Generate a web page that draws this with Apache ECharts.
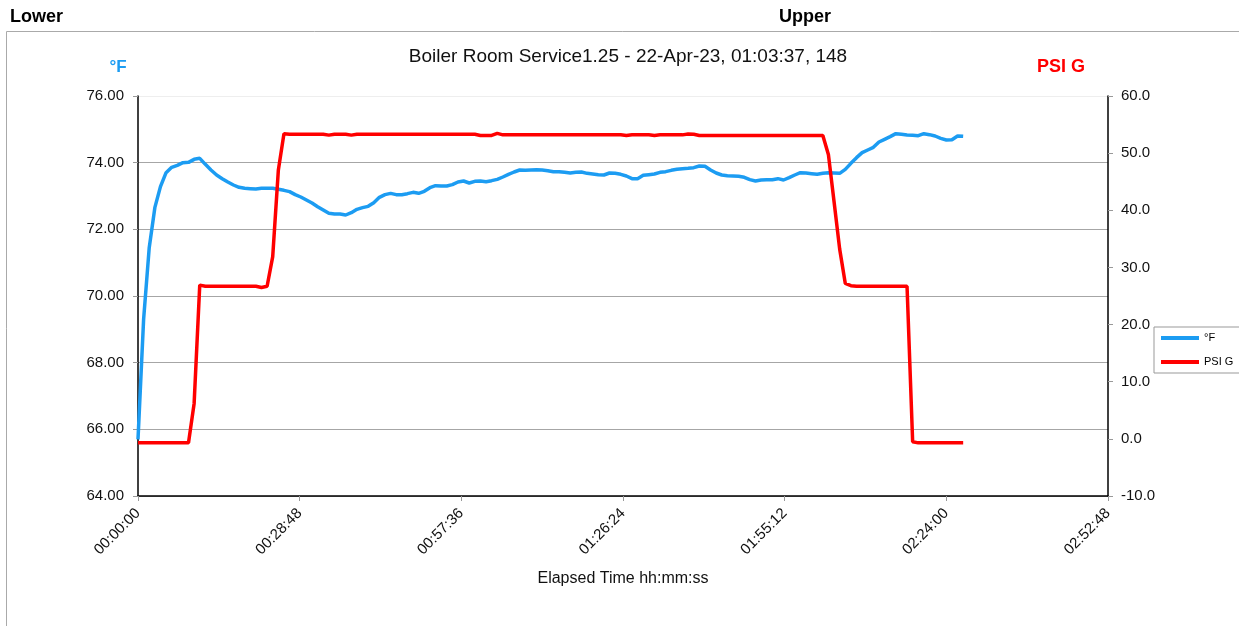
<!DOCTYPE html>
<html>
<head>
<meta charset="utf-8">
<title>Boiler Room Service1.25</title>
<script src="https://cdn.jsdelivr.net/npm/echarts@6/dist/echarts.min.js"></script>
<style>
  html, body { margin: 0; padding: 0; background: #fff; }
  #chart { width: 1239px; height: 626px; }
</style>
</head>
<body>
<div id="chart"></div>
<script>
// one reading per minute, 148 samples
var sampleSec = 60;

// °F (left axis)
var tempF = [
  65.70, 69.30, 71.45, 72.65, 73.28, 73.70, 73.86, 73.92, 74.00, 74.01,
  74.10, 74.13, 73.95, 73.78, 73.63, 73.52, 73.42, 73.33, 73.26, 73.23,
  73.22, 73.21, 73.23, 73.23, 73.23, 73.20, 73.17, 73.13, 73.04, 72.97,
  72.88, 72.79, 72.68, 72.58, 72.48, 72.46, 72.46, 72.43, 72.50, 72.60,
  72.65, 72.69, 72.80, 72.96, 73.04, 73.08, 73.04, 73.04, 73.07, 73.11,
  73.08, 73.14, 73.25, 73.31, 73.30, 73.30, 73.34, 73.42, 73.45, 73.39,
  73.44, 73.45, 73.43, 73.46, 73.50, 73.57, 73.65, 73.72, 73.78, 73.77,
  73.78, 73.79, 73.78, 73.76, 73.73, 73.73, 73.71, 73.69, 73.71, 73.72,
  73.68, 73.66, 73.64, 73.63, 73.69, 73.68, 73.65, 73.60, 73.52, 73.52,
  73.62, 73.64, 73.66, 73.71, 73.73, 73.77, 73.80, 73.82, 73.83, 73.85,
  73.90, 73.89, 73.78, 73.69, 73.63, 73.61, 73.60, 73.59, 73.56, 73.49,
  73.45, 73.48, 73.49, 73.49, 73.52, 73.48, 73.55, 73.63, 73.70, 73.69,
  73.67, 73.65, 73.68, 73.70, 73.69, 73.68, 73.80, 73.98, 74.15, 74.30,
  74.38, 74.46, 74.62, 74.70, 74.78, 74.87, 74.85, 74.83, 74.82, 74.81,
  74.87, 74.84, 74.80, 74.73, 74.68, 74.69, 74.80, 74.79
];

// PSI G (right axis)
var psiG = [
  -0.7, -0.7, -0.7, -0.7, -0.7, -0.7, -0.7, -0.7, -0.7, -0.7,
  6.2, 26.9, 26.7, 26.7, 26.7, 26.7, 26.7, 26.7, 26.7, 26.7,
  26.7, 26.7, 26.5, 26.7, 31.9, 47.0, 53.4,
  53.3, 53.3, 53.3, 53.3, 53.3, 53.3, 53.3, 53.15, 53.3, 53.3,
  53.3, 53.15, 53.3, 53.3, 53.3, 53.3, 53.3, 53.3, 53.3, 53.3,
  53.3, 53.3, 53.3, 53.3, 53.3, 53.3, 53.3, 53.3, 53.3, 53.3,
  53.3, 53.3, 53.3, 53.3, 53.1, 53.1, 53.1, 53.45, 53.2, 53.2,
  53.2, 53.2, 53.2, 53.2, 53.2, 53.2, 53.2, 53.2, 53.2, 53.2,
  53.2, 53.2, 53.2, 53.2, 53.2, 53.2, 53.2, 53.2, 53.2, 53.2,
  53.1, 53.2, 53.2, 53.2, 53.2, 53.1, 53.2, 53.2, 53.2, 53.2,
  53.2, 53.35, 53.3, 53.1, 53.1, 53.1, 53.1, 53.1, 53.1, 53.1,
  53.1, 53.1, 53.1, 53.1, 53.1, 53.1, 53.1, 53.1, 53.1, 53.1,
  53.1, 53.1, 53.1, 53.1, 53.1, 53.1,
  49.7, 41.5, 33.2, 27.2, 26.8,
  26.7, 26.7, 26.7, 26.7, 26.7, 26.7, 26.7, 26.7, 26.7, 26.7,
  -0.5, -0.7, -0.7, -0.7, -0.7, -0.7, -0.7, -0.7, -0.7, -0.7
];

var seriesNames = ['\u00B0F', 'PSI G'];
var chartTitle = 'Boiler Room Service1.25 - 22-Apr-23, 01:03:37, 148';

var blue = '#1C9CF2';
var red = '#FF0000';
var font = '"Liberation Sans", Arial, sans-serif';

function pairs(vals) {
  var out = [];
  for (var i = 0; i < vals.length; i++) out.push([i * sampleSec, vals[i]]);
  return out;
}
function hms(sec) {
  var h = Math.floor(sec / 3600), m = Math.floor(sec % 3600 / 60), s = Math.round(sec % 60);
  function p(n) { return (n < 10 ? '0' : '') + n; }
  return p(h) + ':' + p(m) + ':' + p(s);
}

var chart = echarts.init(document.getElementById('chart'));
var option = {
  backgroundColor: '#fff',
  animation: false,
  textStyle: { fontFamily: font },
  grid: { left: 138, right: 131, top: 96, bottom: 130 },
  graphic: [
    { type: 'polyline', shape: { points: [[6.5, 626], [6.5, 31.5], [1239, 31.5]] },
      style: { stroke: '#aaa', lineWidth: 1, fill: null } },
    { type: 'text', left: 10, top: 8,
      style: { text: 'Lower', font: 'bold 18px ' + font, fill: '#000' } },
    { type: 'text', left: 779, top: 8,
      style: { text: 'Upper', font: 'bold 18px ' + font, fill: '#000' } },
    { type: 'text', x: 628, y: 57,
      style: { text: chartTitle, font: '19px ' + font, fill: '#111', align: 'center', verticalAlign: 'middle' } },
    { type: 'text', x: 118, y: 67,
      style: { text: seriesNames[0], font: 'bold 17px ' + font, fill: blue, align: 'center', verticalAlign: 'middle' } },
    { type: 'text', x: 1061, y: 67,
      style: { text: seriesNames[1], font: 'bold 18px ' + font, fill: red, align: 'center', verticalAlign: 'middle' } }
  ],
  legend: {
    orient: 'vertical',
    left: 1154, top: 327,
    padding: [5.5, 40, 5.5, 7],
    icon: 'rect',
    itemWidth: 38, itemHeight: 4, itemGap: 13,
    borderColor: '#999', borderWidth: 1,
    textStyle: { fontSize: 11, color: '#000', fontFamily: font },
    data: seriesNames
  },
  xAxis: {
    type: 'value',
    min: 0, max: 10368, interval: 1728,
    name: 'Elapsed Time hh:mm:ss',
    nameLocation: 'middle', nameGap: 75,
    nameTextStyle: { fontSize: 16, color: '#111' },
    axisLine: { onZero: false, lineStyle: { color: '#000', width: 1.5 } },
    axisTick: { length: 5, lineStyle: { color: '#999' } },
    axisLabel: { rotate: 45, fontSize: 15, color: '#111', margin: 15, formatter: hms },
    splitLine: { show: false }
  },
  yAxis: [
    {
      type: 'value', min: 64, max: 76, interval: 2,
      axisLine: { show: true, lineStyle: { color: '#000', width: 1.5 } },
      axisTick: { show: true, length: 5, lineStyle: { color: '#999' } },
      axisLabel: { fontSize: 15, color: '#111', margin: 14, formatter: function (v) { return v.toFixed(2); } },
      splitLine: { lineStyle: { color: ['#a6a6a6', '#a6a6a6', '#a6a6a6', '#a6a6a6', '#a6a6a6', '#a6a6a6', '#eeeeee'], width: 1 } }
    },
    {
      type: 'value', min: -10, max: 60, interval: 10,
      axisLine: { show: true, lineStyle: { color: '#000', width: 1.5 } },
      axisTick: { show: true, length: 5, lineStyle: { color: '#999' } },
      axisLabel: { fontSize: 15, color: '#111', margin: 13, formatter: function (v) { return v.toFixed(1); } },
      splitLine: { show: false }
    }
  ],
  series: [
    { name: seriesNames[0], type: 'line', yAxisIndex: 0, data: pairs(tempF),
      showSymbol: false, symbol: 'none', color: blue, lineStyle: { color: blue, width: 3.5 } },
    { name: seriesNames[1], type: 'line', yAxisIndex: 1, data: pairs(psiG),
      showSymbol: false, symbol: 'none', color: red, lineStyle: { color: red, width: 3.5 } }
  ]
};
chart.setOption(option);
</script>
</body>
</html>
